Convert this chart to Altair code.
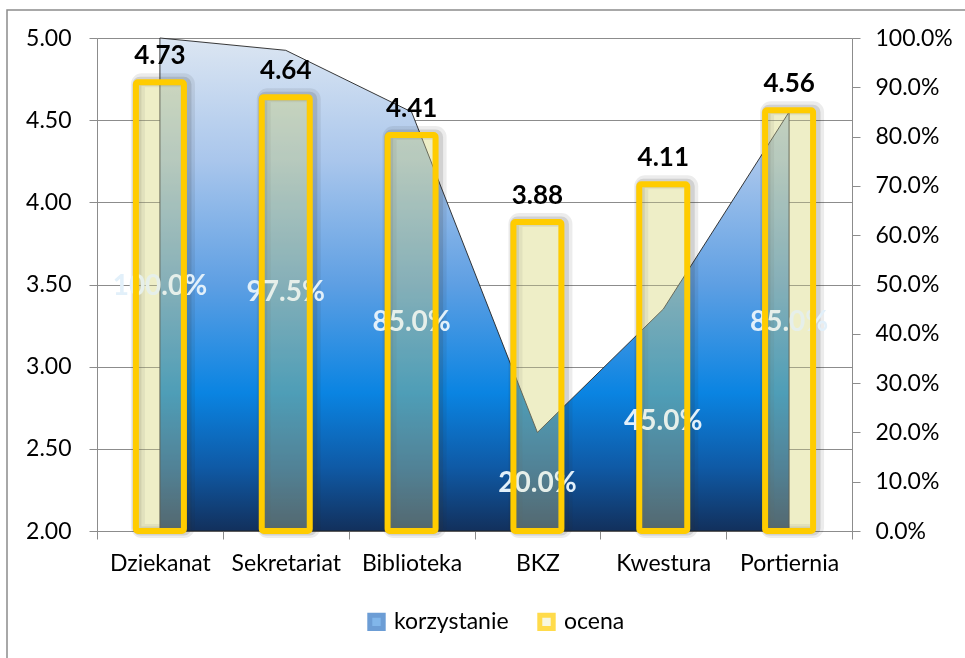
import altair as alt
import pandas as pd

categories = ["Dziekanat", "Sekretariat", "Biblioteka", "BKZ", "Kwestura", "Portiernia"]
korzystanie = [1.0, 0.975, 0.85, 0.20, 0.45, 0.85]
ocena = [4.73, 4.64, 4.41, 3.88, 4.11, 4.56]
series_names = ["korzystanie", "ocena"]
left_ticks = [2.0, 2.5, 3.0, 3.5, 4.0, 4.5, 5.0]
right_ticks = [0.0, 0.1, 0.2, 0.3, 0.4, 0.5, 0.6, 0.7, 0.8, 0.9, 1.0]

df = pd.DataFrame({"kategoria": categories, "korzystanie": korzystanie, "ocena": ocena})
legend_df = pd.DataFrame({"series": series_names})
frame_df = pd.DataFrame({"k": [0]})

FONT = "Lato"
GRAY = "#8C8C8C"
W, H = 755, 493
FS = 23

def x_def(band_pos=None):
    kw = {}
    if band_pos is not None:
        kw["bandPosition"] = band_pos
    return alt.X(
        "kategoria:N",
        sort=categories,
        scale=alt.Scale(paddingInner=0, paddingOuter=0),
        axis=alt.Axis(title=None, labelAngle=0, tickBand="extent", grid=False,
                      domainColor=GRAY, tickColor=GRAY, tickSize=8, labelPadding=13,
                      labelFontSize=FS, labelFont=FONT, labelColor="black"),
        **kw,
    )

x_enc = x_def()
x_area = x_def(0.5)

left_scale = alt.Scale(domain=[2, 5], zero=False, nice=False)
right_scale = alt.Scale(domain=[0, 1], nice=False)

area_grad = alt.Gradient(
    gradient="linear",
    stops=[
        alt.GradientStop(color="#DCE6F2", offset=0),
        alt.GradientStop(color="#A9C6EC", offset=0.25),
        alt.GradientStop(color="#5E9FE3", offset=0.5),
        alt.GradientStop(color="#0A84E2", offset=0.72),
        alt.GradientStop(color="#0F5AA6", offset=0.87),
        alt.GradientStop(color="#12305C", offset=1),
    ],
    x1=0, x2=0, y1=0, y2=1,
)

area = alt.Chart(df).mark_area(color=area_grad, stroke="#222222", strokeWidth=0.9).encode(
    x=x_area,
    y=alt.Y("korzystanie:Q", scale=right_scale,
            axis=alt.Axis(orient="right", title=None, values=right_ticks, format=".1%",
                          grid=False, domainColor=GRAY, tickColor=GRAY, tickSize=8,
                          labelPadding=15, labelFontSize=FS, labelFont=FONT,
                          labelColor="black")),
)

pct = alt.Chart(df).transform_calculate(half="datum.korzystanie / 2").mark_text(
    font=FONT, fontSize=28, fontWeight="bold", color="#E2F0FA", baseline="middle", dy=2
).encode(
    x=x_enc,
    y=alt.Y("half:Q", scale=right_scale, axis=None),
    text=alt.Text("korzystanie:Q", format=".1%"),
)

bar_shadow1 = alt.Chart(df).mark_bar(
    width=50, fill="transparent", stroke="#303030", strokeWidth=14, strokeOpacity=0.09,
    cornerRadius=4, xOffset=3, yOffset=-2
).encode(
    x=x_enc,
    y=alt.Y("ocena:Q", scale=left_scale, axis=None),
    y2=alt.datum(2),
)

bar_shadow2 = alt.Chart(df).mark_bar(
    width=50, fill="transparent", stroke="#303030", strokeWidth=9, strokeOpacity=0.14,
    cornerRadius=3, xOffset=2, yOffset=-1
).encode(
    x=x_enc,
    y=alt.Y("ocena:Q", scale=left_scale, axis=None),
    y2=alt.datum(2),
)

bar_mult = alt.Chart(df).mark_bar(width=48, fill="#EEEEC8", blend="multiply").encode(
    x=x_enc,
    y=alt.Y("ocena:Q", scale=left_scale,
            axis=alt.Axis(orient="left", title=None, values=left_ticks, format=".2f",
                          grid=True, gridColor=GRAY, domainColor=GRAY, tickColor=GRAY,
                          tickSize=8, labelPadding=18, labelFontSize=FS, labelFont=FONT,
                          labelColor="black")),
    y2=alt.datum(2),
)

bar_top = alt.Chart(df).mark_bar(
    width=48, fill="#EEEEC8", fillOpacity=0.3, stroke="#FFCC00", strokeWidth=6,
    cornerRadius=2, strokeJoin="round"
).encode(
    x=x_enc,
    y=alt.Y("ocena:Q", scale=left_scale, axis=None),
    y2=alt.datum(2),
)

vals = alt.Chart(df).mark_text(
    font=FONT, fontSize=26, fontWeight="bold", color="black", baseline="alphabetic", dy=-18
).encode(
    x=x_enc,
    y=alt.Y("ocena:Q", scale=left_scale, axis=None),
    text=alt.Text("ocena:Q", format=".2f"),
)

leg = alt.Legend(orient="none", legendX=268, legendY=572, direction="horizontal",
                 title=None, symbolType="square", symbolSize=180, symbolStrokeWidth=5,
                 labelFontSize=FS, labelFont=FONT, labelColor="black",
                 columnPadding=20, labelOffset=6)
legend_layer = alt.Chart(legend_df).transform_filter("false").mark_square(filled=True).encode(
    fill=alt.Fill("series:N", scale=alt.Scale(domain=series_names, range=["#4C98E2", "#F4F4D6"]), legend=leg),
    stroke=alt.Stroke("series:N", scale=alt.Scale(domain=series_names, range=["#2F74C4", "#FFCC00"]), legend=leg),
)

frame = alt.Chart(frame_df).mark_rect(fill="transparent", stroke=GRAY, strokeWidth=1.5).encode(
    x=alt.value(-90), x2=alt.value(W + 200), y=alt.value(-28), y2=alt.value(H + 200)
)

chart = alt.layer(
    frame, area, bar_shadow1, bar_shadow2, bar_mult, pct, bar_top, vals, legend_layer
).resolve_scale(
    y="independent", fill="independent", stroke="independent"
).properties(
    width=W, height=H, autosize="none",
    padding={"left": 97, "top": 38, "right": 113, "bottom": 127},
).configure_view(stroke=None).configure(font=FONT)

chart.save("out.html", embed_options={"renderer": "svg", "actions": False})
